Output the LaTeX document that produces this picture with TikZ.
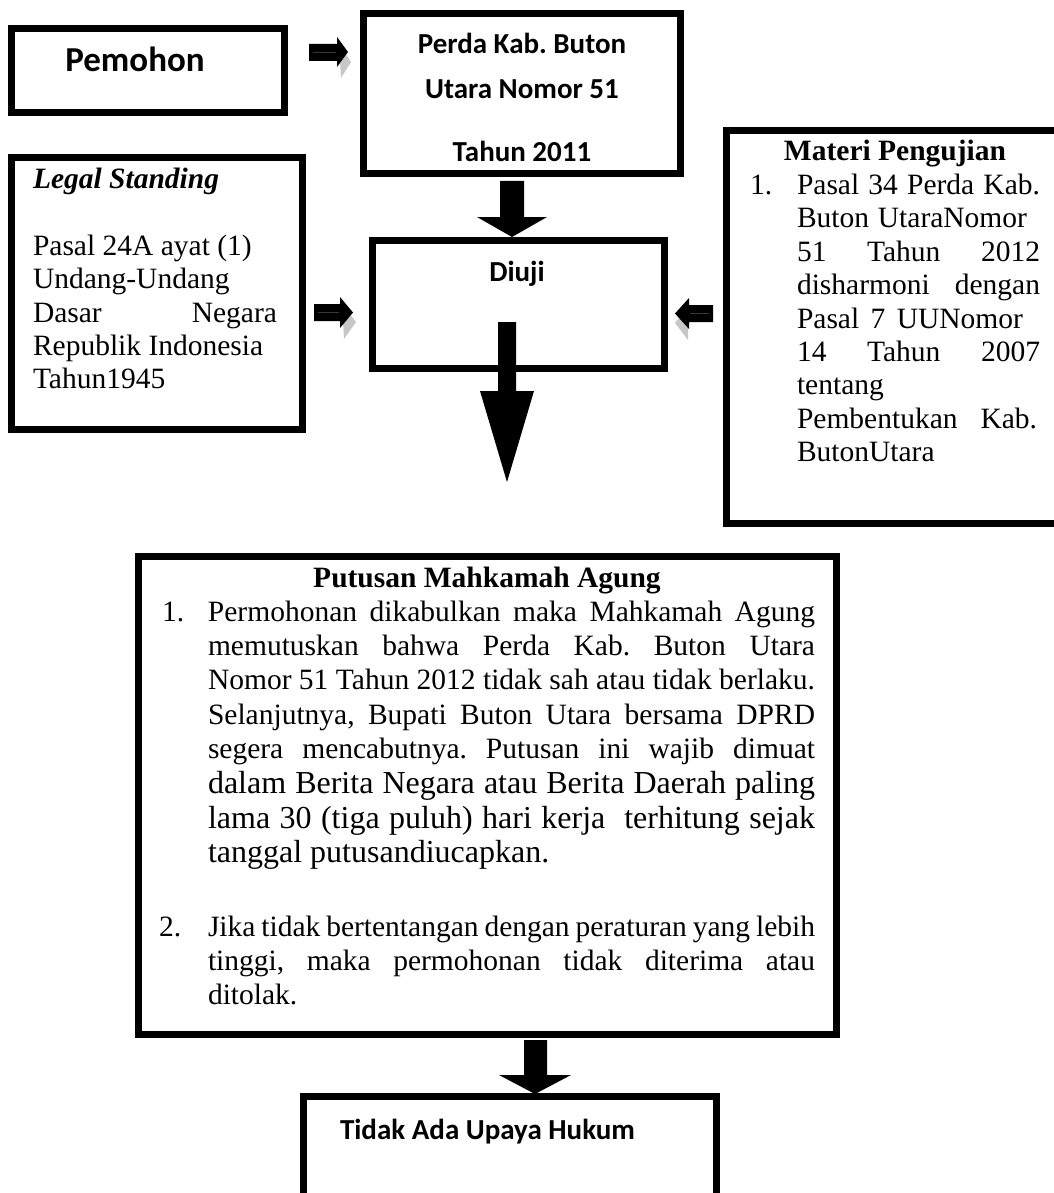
\documentclass[tikz,border=0pt]{standalone}
\usepackage{fontspec}
\setmainfont{Liberation Serif}
\newfontfamily\calfont{Carlito}
\frenchspacing
\newcommand\tnr{\fontsize{29.5}{33.4}\selectfont}
\newcommand\calbold{\calfont\bfseries\fontsize{29}{34}\selectfont}
\newcommand\calbig{\calfont\bfseries\fontsize{35}{40}\selectfont}
\newcommand\J[2]{\hbox to #1{\spaceskip=.25em plus 1fil minus .15em\relax#2}}
\tikzset{
  box/.style={draw=black, line width=7pt, inner sep=0pt, outer sep=0pt, anchor=north west},
  txt/.style={inner sep=0pt, outer sep=0pt},
  blockarrow/.style={fill=black},
  arrowshadow/.style={fill=black!22},
  bevel/.style={draw=black!78, line width=0.7pt},
}
\begin{document}
\begin{tikzpicture}[x=1pt,y=-1pt]
\useasboundingbox (0,0) rectangle (1053,1193);
\fill[white] (0,0) rectangle (1053,1193);

% boxes
\node[box, minimum width=273pt, minimum height=84pt]  (pemohon) at (11.5,28.5) {};
\node[box, minimum width=317pt, minimum height=160pt] (perda)   at (363.5,13.5) {};
\node[box, minimum width=291pt, minimum height=272pt] (legal)   at (11.5,157.5) {};
\node[box, minimum width=292pt, minimum height=128pt] (diuji)   at (372.5,240.5) {};
\node[box, minimum width=345pt, minimum height=393pt] (materi)  at (726.5,130.5) {};
\node[box, minimum width=698pt, minimum height=478pt] (putusan) at (138.5,556.5) {};
\node[box, minimum width=413pt, minimum height=130pt] (tidak)   at (303.5,1096.5) {};

% sans texts
\node[txt, anchor=base, font=\calbig] (tpemohon) at (135,72) {Pemohon};
\node[txt, anchor=base, font=\calbold] (tperdaa) at (522,54) {Perda Kab. Buton};
\node[txt, anchor=base, font=\calbold] (tperdab) at (522,99) {Utara Nomor 51};
\node[txt, anchor=base, font=\calbold] (tperdac) at (522,162) {Tahun 2011};
\node[txt, anchor=base, font=\calbold] (tdiuji) at (517,281) {Diuji};
\node[txt, anchor=base west, font=\calbold] (ttidak) at (340,1139) {Tidak Ada Upaya Hukum};

% legal standing text
\node[txt, anchor=base west, font=\tnr] (tlegal) at (33,189) {\vtop{\baselineskip=33.3pt\lineskiplimit=-\maxdimen
  \hbox{\bfseries\itshape Legal Standing}
  \hbox{}
  \hbox{Pasal 24A ayat (1)}
  \hbox{Undang-Undang}
  \J{244pt}{Dasar Negara}
  \hbox{Republik Indonesia}
  \hbox{Tahun1945}}};

% materi text
\node[txt, anchor=base west, font=\tnr] (tmateri) at (750,161) {\vtop{\baselineskip=33.4pt\lineskiplimit=-\maxdimen
  \hbox to 290pt{\hfil\bfseries Materi Pengujian\hfil}
  \hbox{\hbox to 47pt{1.\hfil}\J{243pt}{Pasal 34 Perda Kab.}}
  \hbox{\hskip47pt\J{230pt}{Buton UtaraNomor}}
  \hbox{\hskip47pt\J{243pt}{51 Tahun 2012}}
  \hbox{\hskip47pt\J{243pt}{disharmoni dengan}}
  \hbox{\hskip47pt\J{226pt}{Pasal 7 UUNomor}}
  \hbox{\hskip47pt\J{243pt}{14 Tahun 2007}}
  \hbox{\hskip47pt tentang}
  \hbox{\hskip47pt\J{240pt}{Pembentukan Kab.}}
  \hbox{\hskip47pt ButonUtara}}};

% putusan text
\node[txt, anchor=base west, font=\tnr] (tputusan) at (162,587) {\vtop{\baselineskip=34.3pt\lineskiplimit=-\maxdimen
  \hbox to 650pt{\hfil\bfseries Putusan Mahkamah Agung\hfil}
  \hbox{\hbox to 46pt{1.\hfil}\J{607pt}{Permohonan dikabulkan maka Mahkamah Agung}}
  \hbox{\hskip46pt\J{607pt}{memutuskan bahwa Perda Kab. Buton Utara}}
  \hbox{\hskip46pt\J{607pt}{Nomor 51 Tahun 2012 tidak sah atau tidak berlaku.}}
  \hbox{\hskip46pt\J{607pt}{Selanjutnya, Bupati Buton Utara bersama DPRD}}
  \hbox{\hskip46pt\J{607pt}{segera mencabutnya. Putusan ini wajib dimuat}}
  \begingroup\fontsize{32}{34.8}\selectfont\lineskiplimit=-\maxdimen
  \hbox{\hskip46pt\J{607pt}{dalam Berita Negara atau Berita Daerah paling}}
  \hbox{\hskip46pt\J{607pt}{lama 30 (tiga puluh) hari kerja~ terhitung sejak}}
  \hbox{\hskip46pt tanggal putusandiucapkan.}
  \endgroup
  \vskip 39pt
  \hbox{\hskip-3pt\hbox to 49pt{2.\hfil}\J{607pt}{Jika tidak bertentangan dengan peraturan yang lebih}}
  \hbox{\hskip46pt\J{607pt}{tinggi, maka permohonan tidak diterima atau}}
  \hbox{\hskip46pt ditolak.}}};

% small block arrows with soft shadow under the head
\fill[arrowshadow] (339,44) -- (351,62) -- (341,78) -- cycle;
\fill[blockarrow] (309,44) -- (337,44) -- (337,37) -- (348,52) -- (337,67) -- (337,61) -- (309,61) -- cycle;
\draw[bevel] (313,52.5) -- (336,52.5);

\fill[arrowshadow] (342,304) -- (356,322) -- (344,339) -- cycle;
\fill[blockarrow] (314,304) -- (340,304) -- (340,297) -- (353,312.5) -- (340,328) -- (340,321) -- (314,321) -- cycle;
\draw[bevel] (318,312.5) -- (339,312.5);

\fill[arrowshadow] (688,305) -- (675,323) -- (688,340) -- cycle;
\fill[blockarrow] (713,305) -- (689,305) -- (689,298) -- (675,313.5) -- (689,329) -- (689,322) -- (713,322) -- cycle;
\draw[bevel] (709,313.5) -- (690,313.5);

% big block arrows
\fill[blockarrow] (500,181) -- (524,181) -- (524,217) -- (547,217) -- (512,237) -- (477,217) -- (500,217) -- cycle;
\fill[blockarrow] (498,322) -- (516,322) -- (516,391) -- (534,391) -- (507,482) -- (480,391) -- (498,391) -- cycle;
\fill[blockarrow] (524,1040) -- (547,1040) -- (547,1075) -- (571,1075) -- (535,1094) -- (499,1075) -- (524,1075) -- cycle;
\end{tikzpicture}
\end{document}
